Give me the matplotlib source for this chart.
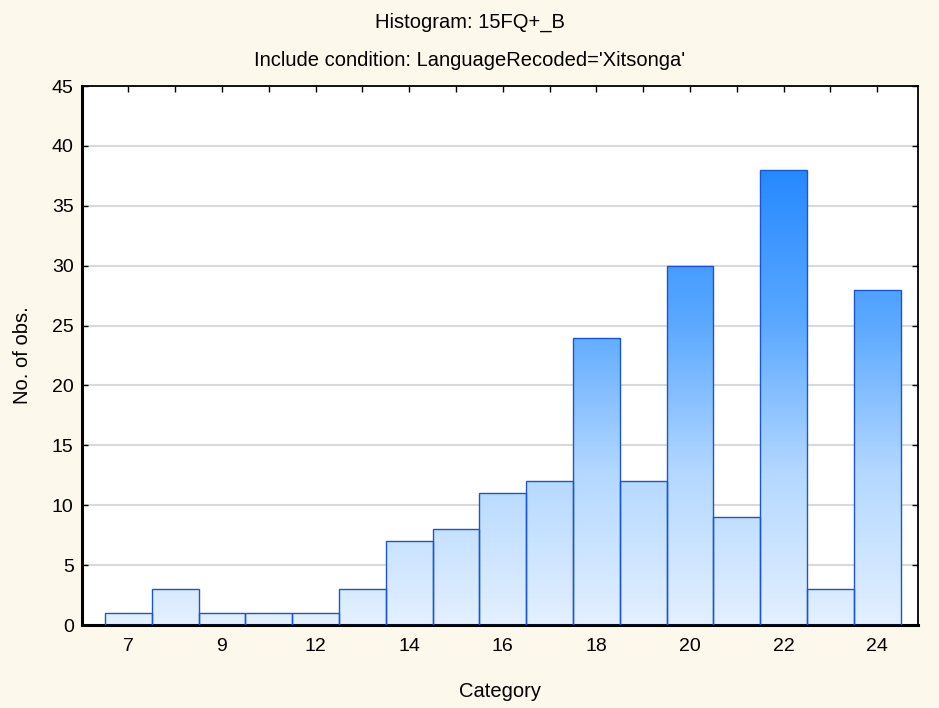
import numpy as np
import matplotlib.pyplot as plt
from matplotlib.colors import LinearSegmentedColormap

plt.rcParams['font.family'] = ['Liberation Sans', 'DejaVu Sans']

categories = ['7', '8', '9', '11', '12', '13', '14', '15', '16', '17',
              '18', '19', '20', '21', '22', '23', '24']
counts = [1, 3, 1, 1, 1, 3, 7, 8, 11, 12, 24, 12, 30, 9, 38, 3, 28]
shown_labels = ['7', '9', '12', '14', '16', '18', '20', '22', '24']

bg = '#fdf8ec'
fig = plt.figure(figsize=(9.39, 7.08), dpi=100, facecolor=bg)
ax = fig.add_axes([0.0873, 0.1172, 0.8903, 0.7613])

x = np.arange(len(categories))
bars = ax.bar(x, counts, width=1.0, color='none', edgecolor='#1a56d0',
              linewidth=1.0, zorder=3)

# vertical gradient, same scale for all bars (dark at the top of the tallest)
cmap = LinearSegmentedColormap.from_list('blu', ['#e3f0ff', '#b4d8ff', '#5aa8ff', '#2689ff'])
grad = np.linspace(0, 1, 256).reshape(-1, 1)
ymax = max(counts)
for b in bars:
    im = ax.imshow(grad, cmap=cmap, aspect='auto', origin='lower',
                   extent=[b.get_x(), b.get_x() + b.get_width(), 0, ymax],
                   zorder=2)
    im.set_clip_path(b)

ax.set_xlim(-0.99, 16.87)
ax.set_ylim(0, 45)
ax.set_yticks(np.arange(0, 46, 5))
ax.set_xticks(x)
ax.set_xticklabels([c if c in shown_labels else '' for c in categories])
ax.tick_params(direction='in', top=True, right=True, length=4, width=1,
               labelsize=14, colors='black', pad=9)
ax.tick_params(axis='y', pad=6)
ax.yaxis.grid(True, color='#d9d9d9', linewidth=1.5, zorder=0)
ax.set_axisbelow(True)
for s in ax.spines.values():
    s.set_linewidth(1.3)
ax.spines['bottom'].set_linewidth(2.2)
ax.spines['left'].set_linewidth(2.2)

ax.set_xlabel('Category', fontsize=14.5, labelpad=20)
ax.set_ylabel('No. of obs.', fontsize=14.5, labelpad=14)
fig.text(0.5, 0.969, 'Histogram: 15FQ+_B', ha='center', va='center', fontsize=14.5)
fig.text(0.5, 0.915, "Include condition: LanguageRecoded='Xitsonga'",
         ha='center', va='center', fontsize=14.5)

fig.savefig('out.png', dpi=100, facecolor=bg)
